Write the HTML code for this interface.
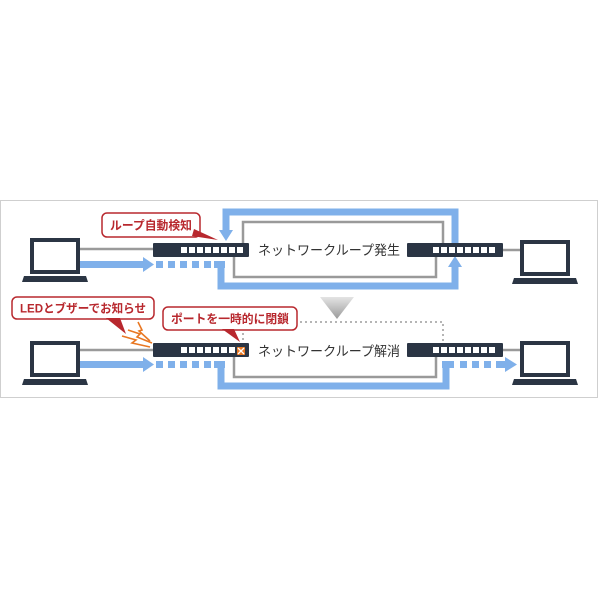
<!DOCTYPE html>
<html><head><meta charset="utf-8"><style>
html,body{margin:0;padding:0;background:#fff;width:600px;height:600px;overflow:hidden}
svg{display:block}
text{font-family:"Liberation Sans","Noto Sans CJK JP",sans-serif}
</style></head><body>
<svg width="600" height="600" viewBox="0 0 600 600">
<defs>
<linearGradient id="g" x1="0" y1="0" x2="0" y2="1"><stop offset="0" stop-color="#e4e4e4"/><stop offset="1" stop-color="#9a9a9a"/></linearGradient>
<g id="lap">
<rect x="0" y="0" width="50" height="36" fill="#2b3544"/>
<rect x="4" y="4" width="42" height="28" fill="#fff"/>
<path d="M-6 38 H56 L58 44 H-8 Z" fill="#2b3544"/>
</g>
<g id="sw">
<rect x="0" y="0" width="96" height="14" rx="1" fill="#2b3544"/>
<g fill="#fff">
<rect x="28" y="4" width="6" height="6"/><rect x="36" y="4" width="6" height="6"/><rect x="44" y="4" width="6" height="6"/><rect x="52" y="4" width="6" height="6"/><rect x="60" y="4" width="6" height="6"/><rect x="68" y="4" width="6" height="6"/><rect x="76" y="4" width="6" height="6"/><rect x="84" y="4" width="6" height="6"/>
</g>
</g>
<g id="swr">
<rect x="0" y="0" width="96" height="14" rx="1" fill="#2b3544"/>
<g fill="#fff">
<rect x="26" y="4" width="6" height="6"/><rect x="34" y="4" width="6" height="6"/><rect x="42" y="4" width="6" height="6"/><rect x="50" y="4" width="6" height="6"/><rect x="58" y="4" width="6" height="6"/><rect x="66" y="4" width="6" height="6"/><rect x="74" y="4" width="6" height="6"/><rect x="82" y="4" width="6" height="6"/>
</g>
</g>
</defs>
<rect x="0.5" y="200.5" width="597" height="197" fill="#fff" stroke="#cfcfcf"/>

<!-- TOP ROW -->
<path d="M226 231 V212 H455 V244" fill="none" stroke="#7fb0ea" stroke-width="7"/>
<path d="M219 230 L233 230 L226 241 Z" fill="#7fb0ea"/>
<path d="M221 264 V286 H455 V266" fill="none" stroke="#7fb0ea" stroke-width="7"/>
<path d="M448 267 L462 267 L455 256 Z" fill="#7fb0ea"/>
<path d="M243 246 V222 H443 V246" fill="none" stroke="#9a9a9a" stroke-width="2.5"/>
<path d="M234 252 V277 H436 V252" fill="none" stroke="#9a9a9a" stroke-width="2.5"/>
<line x1="78" y1="249" x2="155" y2="249" stroke="#9a9a9a" stroke-width="2.5"/>
<line x1="500" y1="250" x2="520" y2="250" stroke="#9a9a9a" stroke-width="2.5"/>
<rect x="78" y="261" width="66" height="7" fill="#7fb0ea"/>
<path d="M143 257 L154 264.5 L143 272 Z" fill="#7fb0ea"/>
<g fill="#7fb0ea"><rect x="156" y="261" width="7" height="7"/><rect x="168" y="261" width="7" height="7"/><rect x="180" y="261" width="7" height="7"/><rect x="192" y="261" width="7" height="7"/><rect x="204" y="261" width="7" height="7"/><rect x="214" y="261" width="11" height="7"/></g>
<use href="#sw" x="153" y="243"/>
<use href="#swr" x="407" y="243"/>
<use href="#lap" x="30" y="238"/>
<use href="#lap" x="520" y="240"/>
<text x="258" y="255" font-size="13.5" fill="#333" textLength="142" lengthAdjust="spacingAndGlyphs">ネットワークループ発生</text>
<rect x="102" y="213" width="98" height="24" rx="5" fill="#fff" stroke="#b8282e" stroke-width="1.5"/>
<path d="M194 229 L218 240 L192 236 Z" fill="#b8282e"/>
<text x="110" y="229.5" font-size="12" font-weight="bold" fill="#b8282e" textLength="82" lengthAdjust="spacingAndGlyphs">ループ自動検知</text>

<path d="M320 297 H354 L337 319 Z" fill="url(#g)"/>

<!-- BOTTOM ROW -->
<path d="M243 340 V322 H443 V343" fill="none" stroke="#b5b5b5" stroke-width="2" stroke-dasharray="2 3"/>
<path d="M221 364 V386 H446 V364" fill="none" stroke="#7fb0ea" stroke-width="7"/>
<path d="M234 352 V377 H436 V352" fill="none" stroke="#9a9a9a" stroke-width="2.5"/>
<line x1="78" y1="350" x2="155" y2="350" stroke="#9a9a9a" stroke-width="2.5"/>
<line x1="500" y1="350" x2="520" y2="350" stroke="#9a9a9a" stroke-width="2.5"/>
<rect x="78" y="361" width="66" height="7" fill="#7fb0ea"/>
<path d="M143 357 L154 364.5 L143 372 Z" fill="#7fb0ea"/>
<g fill="#7fb0ea"><rect x="156" y="361" width="7" height="7"/><rect x="168" y="361" width="7" height="7"/><rect x="180" y="361" width="7" height="7"/><rect x="192" y="361" width="7" height="7"/><rect x="204" y="361" width="7" height="7"/><rect x="214" y="361" width="11" height="7"/>
<rect x="442" y="361" width="12" height="7"/><rect x="460" y="361" width="7" height="7"/><rect x="472" y="361" width="7" height="7"/><rect x="484" y="361" width="7" height="7"/><rect x="496" y="361" width="10" height="7"/></g>
<path d="M505 357 L517 364.5 L505 372 Z" fill="#7fb0ea"/>
<use href="#sw" x="153" y="343"/>
<use href="#swr" x="407" y="343"/>
<rect x="237" y="347" width="8" height="8" fill="#e87722"/>
<path d="M238 348 L244 354 M244 348 L238 354" stroke="#fff" stroke-width="1.3"/>
<use href="#lap" x="30" y="341"/>
<use href="#lap" x="520" y="341"/>
<text x="258" y="356" font-size="13.5" fill="#333" textLength="142" lengthAdjust="spacingAndGlyphs">ネットワークループ解消</text>
<rect x="12" y="297" width="142" height="22" rx="5" fill="#fff" stroke="#b8282e" stroke-width="1.5"/>
<path d="M106 318 L126 334 L120 318 Z" fill="#b8282e"/>
<text x="20" y="312.5" font-size="12" font-weight="bold" fill="#b8282e" textLength="126" lengthAdjust="spacingAndGlyphs">LEDとブザーでお知らせ</text>
<rect x="163" y="307" width="134" height="23" rx="5" fill="#fff" stroke="#b8282e" stroke-width="1.5"/>
<path d="M222 329 L240 342 L234 329 Z" fill="#b8282e"/>
<text x="171" y="323" font-size="12" font-weight="bold" fill="#b8282e" textLength="118" lengthAdjust="spacingAndGlyphs">ポートを一時的に閉鎖</text>
<path d="M122 336 L136 340 L132 343 L150 347 M128 330 L140 334 L137 337 L152 343 M138 322 L142 330 L139 331 L150 341" fill="none" stroke="#e87722" stroke-width="1.6"/>
</svg>
</body></html>
